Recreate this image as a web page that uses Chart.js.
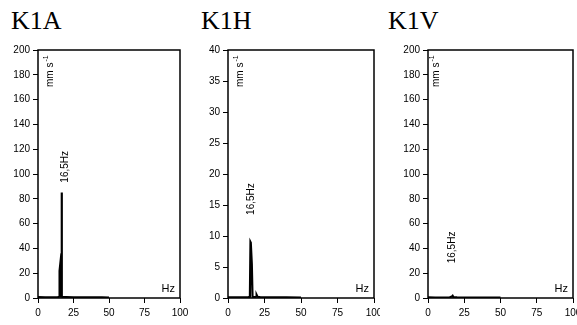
<!DOCTYPE html>
<html>
<head>
<meta charset="utf-8">
<script src="https://cdn.jsdelivr.net/npm/chart.js@4.4.0/dist/chart.umd.min.js"></script>
<style>
  body { margin: 0; background: #fff; }
  #wrap { position: relative; width: 577px; height: 325px; overflow: hidden; }
  .panel { position: absolute; top: 0; }
  .title { position: absolute; top: 6px; font-family: "Liberation Serif", "Times New Roman", serif; font-size: 26px; color: #000; }
</style>
</head>
<body>
<div id="wrap">
  <div class="title" style="left:11px">K1A</div>
  <div class="title" style="left:201px">K1H</div>
  <div class="title" style="left:388px">K1V</div>
  <canvas id="k1a" class="panel" width="190" height="325" style="left:0px"></canvas>
  <canvas id="k1h" class="panel" width="190" height="325" style="left:190px"></canvas>
  <canvas id="k1v" class="panel" width="187" height="325" style="left:390px"></canvas>
</div>
<script>
// spectra (frequency in Hz, amplitude in mm/s)
const k1aHz  = [0, 5, 10, 14, 15, 15.2, 16.5, 16.6, 16.9, 18, 20, 25, 30, 35, 40, 45, 50];
const k1aAmp = [0.8, 0.6, 0.6, 0.8, 1, 22, 36, 85, 1, 0.8, 0.8, 0.6, 0.6, 0.5, 0.5, 0.5, 0.4];

const k1hHz  = [0, 5, 10, 14, 15, 15.4, 15.6, 16.3, 16.8, 18, 19.3, 19.6, 20.2, 22, 25, 30, 40, 50];
const k1hAmp = [0.1, 0.1, 0.1, 0.15, 0.2, 9.0, 8.9, 5.5, 0.2, 0.15, 0.2, 0.5, 0.2, 0.15, 0.1, 0.1, 0.1, 0.05];

const k1vHz  = [0, 5, 10, 15, 16.5, 17, 17.5, 20, 30, 40, 50];
const k1vAmp = [0.5, 0.4, 0.4, 0.6, 1.2, 1.8, 0.8, 0.5, 0.4, 0.4, 0.3];

const xTicks = [0, 25, 50, 75, 100];
const peakLabel = "16,5Hz";
const unitLabel = "mm s";

const sans = "'Liberation Sans', Arial, sans-serif";

// draws text rotated so it reads bottom to top, starting at (x, y)
function upText(ctx, txt, x, y) {
    ctx.save();
    ctx.translate(x, y);
    ctx.rotate(-Math.PI / 2);
    ctx.textAlign = "left";
    ctx.textBaseline = "middle";
    ctx.fillText(txt, 0, 0);
    ctx.restore();
}

const framePlugin = {
    id: "frame",
    afterDatasetsDraw(chart, args, opts) {
        const { ctx, chartArea: a, scales } = chart;
        ctx.save();
        ctx.strokeStyle = "#000";
        ctx.lineWidth = 1.5;
        ctx.strokeRect(a.left, a.top, a.right - a.left, a.bottom - a.top);

        ctx.fillStyle = "#000";
        // unit label, top left inside the frame
        ctx.font = "10px " + sans;
        const ux = a.left + opts.unitDx;
        const uy = a.top + 37;
        upText(ctx, unitLabel, ux, uy);
        const w = ctx.measureText(unitLabel).width;
        ctx.font = "7px " + sans;
        upText(ctx, "-1", ux - 4, uy - w - 1);

        // peak label
        ctx.font = "10px " + sans;
        upText(ctx, peakLabel, scales.x.getPixelForValue(opts.peakX), scales.y.getPixelForValue(opts.peakY));

        // Hz label, bottom right
        ctx.font = "11px " + sans;
        ctx.textAlign = "right";
        ctx.textBaseline = "alphabetic";
        ctx.fillText("Hz", a.right - 5, a.bottom - 6);
        ctx.restore();
    }
};

function makePanel(id, hz, amp, yMax, yStep, padRight, opts) {
    const points = hz.map((f, i) => ({ x: f, y: amp[i] }));
    return new Chart(document.getElementById(id), {
        type: "line",
        data: {
            datasets: [{
                data: points,
                borderColor: "#000",
                borderWidth: 2.2,
                pointRadius: 0,
                tension: 0,
                fill: false
            }]
        },
        options: {
            responsive: false,
            animation: false,
            layout: { padding: { top: 50, right: padRight, left: 0, bottom: 0 } },
            plugins: {
                legend: { display: false },
                tooltip: { enabled: false },
                frame: opts
            },
            scales: {
                x: {
                    type: "linear",
                    min: 0,
                    max: 100,
                    afterBuildTicks: s => { s.ticks = xTicks.map(v => ({ value: v })); },
                    afterFit: s => { s.height = 27; s.paddingLeft = 0; s.paddingRight = 0; },
                    grid: { drawOnChartArea: false, drawTicks: true, tickLength: 5, color: "#000" },
                    border: { display: false },
                    ticks: { color: "#000", padding: 4, maxRotation: 0, font: { family: sans, size: 10 } }
                },
                y: {
                    min: 0,
                    max: yMax,
                    afterFit: s => { s.width = 38; s.paddingTop = 0; s.paddingBottom = 0; },
                    grid: { drawOnChartArea: false, drawTicks: true, tickLength: 5, color: "#000" },
                    border: { display: false },
                    ticks: { stepSize: yStep, color: "#000", padding: 3, font: { family: sans, size: 10 } }
                }
            }
        },
        plugins: [framePlugin]
    });
}

document.addEventListener("DOMContentLoaded", function () {
    makePanel("k1a", k1aHz, k1aAmp, 200, 20, 10, { unitDx: 12, peakX: 19, peakY: 93 });
    makePanel("k1h", k1hHz, k1hAmp, 40, 5, 6, { unitDx: 12, peakX: 15.8, peakY: 13.4 });
    makePanel("k1v", k1vHz, k1vAmp, 200, 20, 4, { unitDx: 8, peakX: 16.9, peakY: 28 });
});
</script>
</body>
</html>
